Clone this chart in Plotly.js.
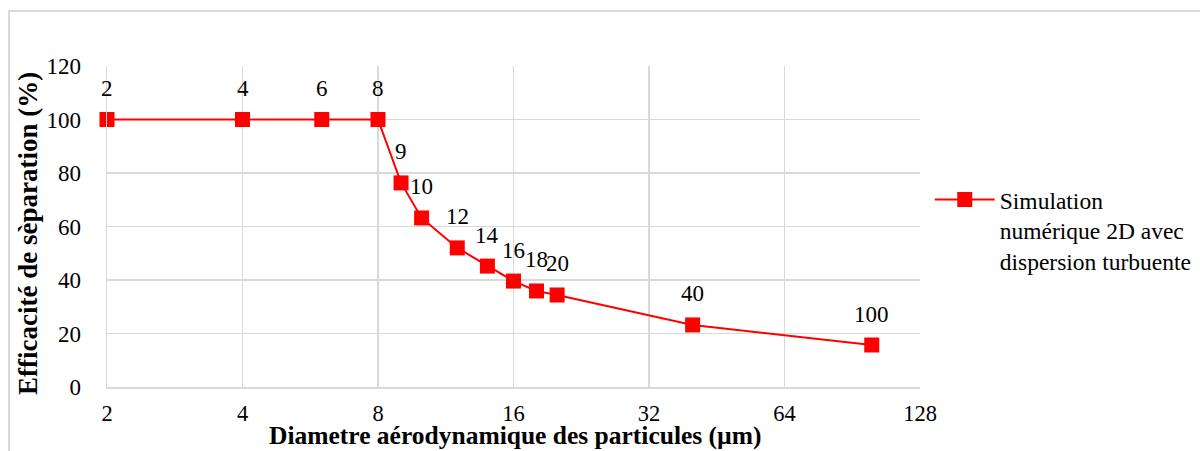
<!DOCTYPE html>
<html>
<head>
<meta charset="utf-8">
<script src="https://cdn.plot.ly/plotly-3.0.1.min.js"></script>
<style>
  html, body { margin: 0; padding: 0; background: #fff; }
  #frame { position: absolute; left: 8px; top: 10px; width: 1192px; height: 441px;
           border-top: 2px solid #d9d9d9; border-left: 2px solid #d9d9d9; box-sizing: border-box; }
  #chart { position: absolute; left: 0; top: 0; width: 1200px; height: 451px; }
</style>
</head>
<body>
<div id="frame"></div>
<div id="chart"></div>
<script>
const diameters = [2, 4, 6, 8, 9, 10, 12, 14, 16, 18, 20, 40, 100];
const efficiency = [100, 100, 100, 100, 76.3, 63.2, 52, 45.2, 39.6, 35.9, 34.4, 23.2, 15.7];
const pointLabels = ["2", "4", "6", "8", "9", "10", "12", "14", "16", "18", "20", "40", "100"];
const xTicks = [2, 4, 8, 16, 32, 64, 128];
const yTicks = [0, 20, 40, 60, 80, 100, 120];
const seriesName = "Simulation<br>numérique 2D avec<br>dispersion turbuente";
const xTitle = "Diametre aérodynamique des particules (µm)";
const yTitle = "Efficacité de sèparation (%)";

const serif = "Liberation Serif";

const trace = {
  x: diameters,
  y: efficiency,
  mode: "lines+markers",
  name: seriesName,
  line: { color: "#ff0000", width: 2 },
  marker: { symbol: "square", size: 15, color: "#ff0000" },
  cliponaxis: false
};

const labelAnnotations = diameters.map((d, i) => ({
  x: Math.log10(d),
  y: efficiency[i],
  xref: "x",
  yref: "y",
  text: pointLabels[i],
  showarrow: false,
  xanchor: "center",
  yanchor: "middle",
  yshift: 31,
  font: { family: serif, size: 23, color: "#000" }
}));

const titleAnnotations = [
  {
    x: 0.502, y: -0.152, xref: "paper", yref: "paper",
    text: "<b>" + xTitle + "</b>", showarrow: false,
    xanchor: "center", yanchor: "middle",
    font: { family: serif, size: 25.5, color: "#000" }
  },
  {
    x: -0.097, y: 0.477, xref: "paper", yref: "paper",
    text: "<b>" + yTitle + "</b>", showarrow: false, textangle: -90,
    xanchor: "center", yanchor: "middle",
    font: { family: serif, size: 27, color: "#000" }
  }
];

const layout = {
  width: 1200,
  height: 451,
  margin: { l: 107, r: 280, t: 66, b: 64, autoexpand: false },
  paper_bgcolor: "rgba(0,0,0,0)",
  plot_bgcolor: "rgba(0,0,0,0)",
  font: { family: serif, color: "#000", size: 23 },
  showlegend: true,
  annotations: labelAnnotations.concat(titleAnnotations),
  legend: {
    x: 1.012, y: 0.652, xanchor: "left", yanchor: "top",
    valign: "top",
    font: { family: serif, size: 23.5, color: "#000" },
    itemwidth: 60,
    tracegroupgap: 0
  },
  xaxis: {
    type: "log",
    range: [Math.log10(2) - 1e-6, Math.log10(128)],
    tickvals: xTicks,
    ticktext: xTicks.map(String),
    showgrid: true,
    gridcolor: "#d9d9d9",
    gridwidth: 1.5,
    showline: true,
    linecolor: "#d9d9d9",
    linewidth: 1.5,
    zeroline: false,
    ticks: "",
    ticklabelstandoff: 5,
    tickfont: { family: serif, size: 22.5 },
    automargin: false
  },
  yaxis: {
    range: [0, 120],
    tickvals: yTicks,
    showgrid: true,
    gridcolor: "#d9d9d9",
    gridwidth: 1.5,
    showline: true,
    linecolor: "#d9d9d9",
    linewidth: 1.5,
    zeroline: false,
    ticks: "",
    ticklabelstandoff: 20,
    tickfont: { family: serif, size: 23 },
    automargin: false
  }
};

Plotly.newPlot("chart", [trace], layout, { displayModeBar: false, staticPlot: true });
</script>
</body>
</html>
